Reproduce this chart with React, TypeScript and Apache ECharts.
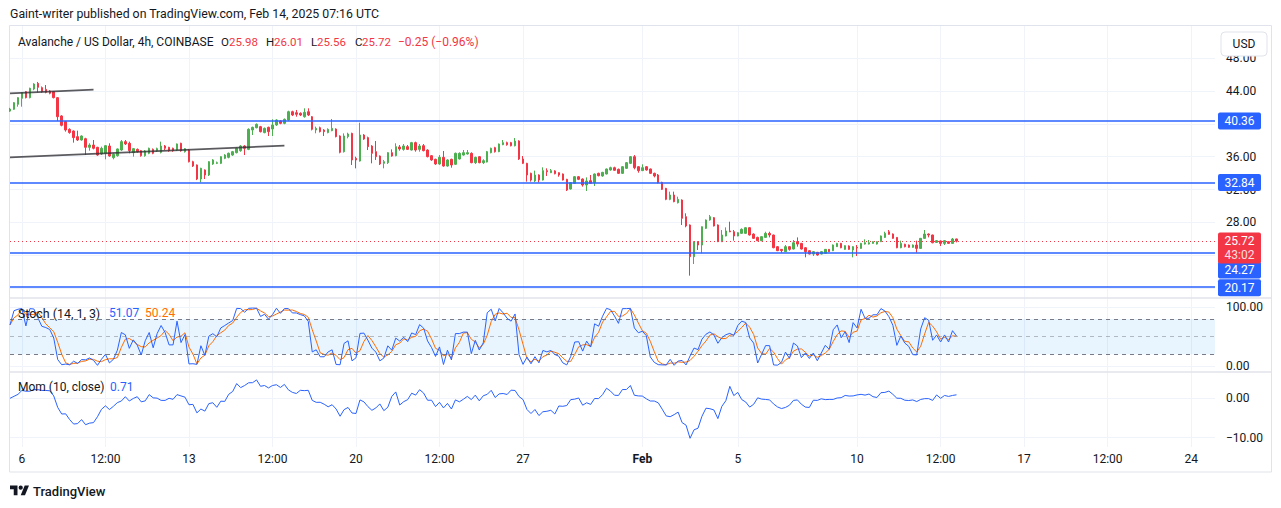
import React, { useEffect, useRef } from "react";
import * as echarts from "echarts";

// ---------- data ----------
const startTime = Date.UTC(2025, 0, 5, 12); // first 4h bar: Jan 5 12:00 UTC
const categoryCount = 304;

const opens = [
  41.55,
  41.77, 42.38, 43.11, 43.92, 43.19, 44.24, 44.93, 44.41, 44.20, 44.00,
  43.92, 43.19, 40.96, 40.27, 39.33, 39.13, 38.44, 38.03, 38.19, 37.14,
  37.42, 37.14, 36.33, 36.41, 37.30, 35.88, 36.12, 36.81, 37.83, 37.63,
  36.49, 36.89, 36.73, 36.12, 36.41, 36.89, 36.73, 36.53, 37.30, 37.14,
  37.02, 36.81, 37.63, 36.61, 36.81, 35.39, 34.99, 33.28, 34.38, 33.77,
  35.11, 35.19, 35.19, 35.80, 35.92, 36.20, 36.49, 36.73, 37.30, 36.89,
  39.25, 39.53, 39.66, 38.93, 39.57, 39.37, 39.86, 40.35, 40.06, 40.47,
  41.48, 41.36, 41.28, 40.87, 41.48, 40.87, 39.25, 39.53, 39.25, 38.93,
  39.17, 39.37, 38.52, 36.61, 38.44, 38.84, 35.80, 35.47, 38.64, 38.32,
  37.30, 36.61, 36.08, 35.19, 35.27, 36.49, 36.12, 37.18, 36.89, 37.22,
  36.81, 37.71, 36.89, 37.34, 36.81, 36.12, 35.68, 35.11, 35.92, 34.86,
  35.68, 35.07, 35.72, 36.20, 36.33, 36.41, 35.27, 36.00, 35.27, 35.35,
  36.49, 37.10, 36.61, 37.46, 37.71, 37.71, 37.34, 37.91, 35.72, 35.19,
  33.97, 33.04, 33.77, 33.16, 34.30, 34.05, 34.26, 34.05, 33.89, 33.24,
  32.06, 32.75, 33.56, 33.28, 32.55, 33.08, 32.83, 33.97, 33.65, 33.89,
  34.38, 34.66, 34.46, 33.97, 34.58, 35.19, 36.00, 34.78, 34.30, 34.78,
  34.50, 33.97, 33.77, 32.87, 32.14, 30.80, 31.33, 30.39, 30.72, 28.69,
  27.68, 23.82, 25.65, 25.24, 27.27, 28.29, 28.57, 27.68, 25.65, 26.34,
  26.95, 26.86, 26.34, 26.66, 26.66, 27.35, 26.58, 26.17, 25.77, 26.17,
  26.66, 26.46, 25.04, 24.71, 24.43, 25.04, 24.75, 25.65, 25.44, 24.91,
  24.55, 24.14, 24.35, 24.14, 24.23, 24.71, 24.55, 25.04, 25.44, 24.71,
  25.12, 24.63, 24.96, 24.83, 25.36, 25.36, 25.44, 25.36, 25.65, 26.17,
  26.86, 26.58, 26.17, 24.91, 25.32, 25.24, 24.96, 25.24, 24.83, 26.05,
  26.58, 26.46, 25.56, 25.73, 25.44, 25.65, 25.44, 25.98,
];

const closes = [
  41.80,
  42.58, 43.19, 43.80, 43.19, 44.33, 44.85, 44.45, 43.92, 43.84, 43.72,
  43.19, 40.87, 39.82, 39.25, 38.93, 38.32, 38.03, 38.52, 37.14, 37.42,
  37.02, 36.20, 37.02, 37.34, 36.08, 36.29, 36.94, 37.83, 37.55, 36.73,
  36.98, 36.61, 36.12, 36.69, 37.02, 36.41, 36.98, 37.30, 37.02, 36.73,
  36.73, 37.55, 36.73, 36.98, 35.39, 34.87, 33.28, 34.58, 33.77, 35.39,
  35.60, 35.27, 36.00, 36.20, 36.41, 36.61, 37.02, 37.30, 37.02, 39.33,
  39.57, 39.94, 39.05, 39.45, 39.05, 39.86, 40.47, 40.06, 40.55, 41.48,
  41.08, 41.16, 41.08, 41.40, 41.08, 39.33, 39.45, 39.05, 39.05, 39.33,
  39.45, 38.44, 36.53, 38.52, 38.76, 35.60, 35.60, 38.64, 38.15, 37.22,
  36.41, 36.00, 35.11, 35.39, 36.49, 36.08, 37.22, 36.94, 37.30, 36.89,
  37.71, 36.81, 37.30, 36.73, 36.00, 35.60, 35.11, 35.92, 34.86, 35.60,
  34.99, 36.41, 36.41, 36.49, 36.49, 35.27, 35.92, 35.27, 35.51, 36.61,
  37.02, 36.61, 37.54, 37.71, 37.46, 37.34, 37.91, 35.72, 35.19, 33.77,
  33.16, 33.77, 33.16, 34.30, 34.17, 34.30, 33.93, 33.77, 33.16, 31.94,
  32.83, 33.56, 33.24, 32.55, 33.04, 32.75, 33.89, 33.69, 34.09, 34.50,
  34.66, 34.34, 33.97, 34.78, 35.27, 36.00, 34.66, 34.30, 34.66, 34.38,
  33.97, 33.65, 32.83, 32.02, 30.80, 31.33, 30.52, 30.80, 28.49, 27.56,
  23.82, 25.65, 25.24, 27.47, 28.29, 28.69, 27.56, 25.65, 26.46, 26.95,
  26.86, 26.34, 26.74, 27.15, 27.35, 26.46, 26.05, 25.77, 26.26, 26.66,
  26.46, 24.91, 24.55, 24.55, 25.04, 24.71, 25.52, 25.36, 24.75, 24.43,
  24.14, 24.43, 24.02, 24.43, 24.71, 24.43, 25.24, 25.44, 24.91, 25.16,
  24.71, 25.04, 24.88, 25.44, 25.52, 25.52, 25.65, 25.65, 26.34, 26.66,
  26.54, 26.05, 24.91, 25.44, 25.04, 24.96, 25.24, 24.83, 26.05, 26.58,
  26.46, 25.52, 25.77, 25.44, 25.77, 25.44, 25.97, 25.72,
];

const lows = [
  41.45,
  41.70, 42.09, 42.09, 43.10, 43.10, 44.10, 43.84, 43.80, 43.72, 43.60,
  43.10, 40.35, 39.70, 39.05, 38.80, 37.71, 37.91, 37.95, 36.20, 36.73,
  36.89, 36.10, 36.20, 35.68, 36.00, 35.68, 36.00, 36.70, 37.42, 36.41,
  36.00, 36.50, 36.00, 36.00, 36.30, 36.30, 36.60, 36.40, 36.81, 36.60,
  36.60, 36.70, 36.60, 36.50, 35.30, 34.75, 33.15, 32.87, 33.28, 33.65,
  35.00, 35.10, 35.10, 35.70, 35.80, 36.10, 36.40, 36.60, 36.20, 36.80,
  38.64, 39.45, 38.95, 38.85, 38.52, 38.52, 39.75, 39.95, 39.95, 40.35,
  40.95, 40.87, 40.95, 40.75, 40.95, 39.20, 38.85, 38.95, 38.52, 38.85,
  39.10, 38.35, 36.41, 36.50, 38.23, 34.99, 34.58, 35.40, 38.05, 36.81,
  35.19, 35.60, 34.99, 34.58, 35.11, 36.00, 36.05, 36.73, 36.73, 36.81,
  36.75, 36.61, 36.61, 36.65, 35.92, 35.50, 35.00, 35.00, 34.78, 34.78,
  34.66, 35.00, 35.65, 36.12, 36.25, 35.20, 35.11, 35.20, 35.11, 35.30,
  36.41, 36.50, 36.55, 37.40, 37.34, 37.25, 37.25, 35.60, 35.10, 32.96,
  32.96, 32.92, 32.87, 33.10, 33.65, 34.00, 33.85, 33.56, 33.10, 31.82,
  32.00, 32.70, 33.15, 32.35, 31.82, 32.70, 32.43, 33.60, 33.56, 33.85,
  34.30, 34.30, 33.90, 33.90, 34.50, 35.10, 34.46, 34.05, 34.25, 34.30,
  33.90, 33.48, 32.75, 31.94, 30.70, 30.70, 30.45, 30.30, 27.68, 27.40,
  21.51, 22.93, 24.63, 24.23, 27.20, 28.20, 27.50, 25.60, 25.60, 26.30,
  26.80, 25.77, 26.30, 26.60, 26.60, 26.40, 26.00, 25.70, 25.70, 26.10,
  26.17, 24.85, 24.50, 24.31, 24.40, 24.55, 24.70, 25.04, 24.70, 23.74,
  24.10, 23.90, 23.95, 24.10, 24.20, 24.40, 24.50, 25.00, 24.85, 24.65,
  24.65, 23.74, 23.90, 24.80, 25.30, 25.30, 25.40, 25.30, 25.60, 26.10,
  26.50, 26.00, 24.85, 24.85, 24.95, 24.90, 24.90, 24.31, 24.80, 26.00,
  26.17, 25.45, 25.50, 25.12, 25.24, 25.40, 25.40, 25.56,
];

const highs = [
  41.95,
  42.65, 43.25, 43.85, 44.00, 44.40, 44.95, 45.10, 44.55, 44.73, 44.10,
  44.00, 43.25, 41.05, 40.35, 39.45, 39.20, 39.17, 38.60, 38.30, 37.63,
  38.03, 37.20, 37.22, 37.40, 37.63, 36.40, 37.00, 38.03, 38.03, 37.83,
  37.05, 37.00, 36.80, 36.80, 37.10, 37.00, 37.10, 37.83, 37.42, 37.20,
  37.10, 37.60, 37.70, 37.05, 36.90, 35.50, 35.05, 34.65, 34.45, 35.45,
  35.70, 35.40, 36.05, 36.30, 36.50, 36.70, 37.10, 37.40, 37.40, 39.45,
  39.66, 40.05, 39.75, 39.55, 39.66, 40.55, 40.55, 40.45, 40.65, 41.60,
  41.60, 41.69, 41.40, 41.89, 41.89, 40.95, 39.66, 39.66, 39.35, 39.45,
  40.59, 39.45, 38.60, 38.84, 38.92, 38.92, 36.00, 40.14, 38.75, 38.44,
  37.40, 37.91, 36.15, 35.60, 36.55, 36.89, 37.63, 37.42, 37.54, 37.42,
  37.80, 37.83, 37.54, 37.54, 36.90, 36.20, 35.75, 36.20, 36.69, 35.70,
  35.75, 36.50, 36.53, 36.81, 36.81, 36.53, 36.00, 36.05, 35.68, 36.70,
  37.10, 37.20, 37.60, 38.03, 37.83, 37.80, 38.27, 38.00, 36.08, 35.25,
  34.05, 34.30, 33.85, 34.70, 34.58, 34.50, 34.35, 34.10, 33.95, 33.30,
  32.90, 33.65, 33.65, 33.35, 33.48, 33.77, 33.95, 34.05, 34.15, 34.55,
  34.78, 34.78, 34.55, 34.85, 35.35, 36.08, 36.20, 34.85, 35.07, 34.86,
  34.55, 34.05, 33.89, 32.95, 32.20, 31.74, 31.74, 31.13, 30.80, 29.10,
  27.75, 25.70, 25.70, 27.50, 28.35, 28.90, 28.65, 27.75, 27.07, 27.39,
  28.08, 27.07, 26.80, 27.27, 27.40, 27.40, 26.65, 26.25, 26.30, 26.86,
  26.86, 26.50, 25.10, 24.75, 25.24, 25.10, 25.85, 26.17, 25.50, 24.95,
  24.60, 24.50, 24.40, 24.50, 24.75, 24.75, 25.30, 25.50, 25.50, 25.20,
  25.20, 25.10, 25.24, 25.50, 25.93, 25.85, 25.70, 25.70, 26.40, 26.86,
  27.07, 26.65, 26.20, 25.77, 25.40, 25.30, 25.30, 25.77, 26.10, 27.07,
  26.65, 26.50, 25.85, 25.80, 25.85, 25.70, 26.10, 26.01,
];

// momentum of the first bars (their 10-bar-back closes are off the chart)
const momLead = [0.0, 0.5, 1.0, 2.0, 1.8, 1.8, 2.2, 2.2, 2.0, 2.0];

const levels = [40.36, 32.84, 24.27, 20.17];
const levelTagShift = [0, 0, 17, 1];
const trendLines = [
  [0, 43.72, 21, 44.16],
  [0, 35.92, 69, 37.34],
];
const priceGridTicks = [20, 24, 28, 32, 36, 40, 44, 48];
const priceLabelTicks = [28, 32, 36, 44, 48];
const stochTicks = [0, 100];
const stochBands = [80, 50, 20];
const momTicks = [-10, 0];
const timeTickIndex = [3, 24, 45, 66, 87, 108, 129, 159, 183, 213, 234, 255, 276, 297];
const timeTickText = ["6", "12:00", "13", "12:00", "20", "12:00", "27", "Feb", "5", "10", "12:00", "17", "12:00", "24"];
const stochLegendValues = ["51.07", "50.24"];
const momLegendValue = "0.71";
const countdown = "43:02";

// ---------- derived ----------
const categories = Array.from({ length: categoryCount }, (_, i) =>
  new Date(startTime + i * 4 * 3600e3).toISOString().slice(0, 16).replace("T", " ")
);
const candleData = opens.map((o, i) => [o, closes[i], lows[i], highs[i]]);

const kLine = closes.map((c, i) => {
  const from = Math.max(0, i - 13);
  let hh = -Infinity, ll = Infinity;
  for (let j = from; j <= i; j++) { hh = Math.max(hh, highs[j]); ll = Math.min(ll, lows[j]); }
  return hh === ll ? 50 : +((100 * (c - ll)) / (hh - ll)).toFixed(2);
});
const dLine = kLine.map((_, i) => {
  const from = Math.max(0, i - 2);
  let s = 0;
  for (let j = from; j <= i; j++) s += kLine[j];
  return +(s / (i - from + 1)).toFixed(2);
});
const momLine = closes.map((c, i) => (i < 10 ? momLead[i] : +(c - closes[i - 10]).toFixed(2)));

const last = closes.length - 1;
const change = closes[last] - closes[last - 1];
const fmtSigned = (v: number) => (v < 0 ? "\u2212" + Math.abs(v).toFixed(2) : "+" + v.toFixed(2));

const tagItems = [
  ...levels.map((v, k) => ({ value: [0, v], text: v.toFixed(2), sub: "", color: "#2962ff", shift: levelTagShift[k] })),
  { value: [0, closes[last]], text: closes[last].toFixed(2), sub: countdown, color: "#f23645", shift: 0 },
];

const FONT = "Roboto, 'Noto Sans', sans-serif";
const TEXT = "#131722";
const GRID = "#f0f3fa";
const BORDER = "#e0e3eb";

let logoRegistered = false;
function registerLogo() {
  if (logoRegistered) return;
  const d = "M14 22H7V11H0V4h14v18zM28 22h-8l7.5-18h8L28 22zM16 8a4 4 0 1 0 8 0a4 4 0 1 0 -8 0z";
  echarts.graphic.registerShape("tvlogo", echarts.graphic.extendPath(d, {}) as any);
  logoRegistered = true;
}

const isTick = (i: number) => timeTickIndex.indexOf(i) >= 0;
const axisNum = (v: number) => (v < 0 ? "\u2212" + Math.abs(v).toFixed(2) : v.toFixed(2));

function txt(x: number, y: number, text: string, fill: string, size = 13, weight: any = "normal") {
  return {
    type: "text",
    x,
    y,
    silent: true,
    z: 100,
    style: { text, fill, font: `${weight} ${size}px ${FONT}`, verticalAlign: "middle", textVerticalAlign: "middle", align: "left", textAlign: "left" },
  };
}

export default function App() {
  const ref = useRef<HTMLDivElement>(null);
  useEffect(() => {
    if (!ref.current) return;
    registerLogo();
    const chart = echarts.init(ref.current, null, { renderer: "svg" });

    const xAxes = [0, 1, 2].map((g) => ({
      type: "category",
      gridIndex: g,
      data: categories,
      boundaryGap: false,
      axisLine: { show: false },
      axisTick: { show: false },
      axisLabel:
        g === 2
          ? {
              show: true,
              interval: (i: number) => isTick(i),
              formatter: (_v: string, i: number) => {
                const t = timeTickText[timeTickIndex.indexOf(i)] || "";
                return t === "Feb" ? "{b|Feb}" : t;
              },
              color: TEXT,
              fontSize: 12,
              fontFamily: FONT,
              margin: 6,
              rich: { b: { fontWeight: "bold", color: TEXT, fontSize: 12, fontFamily: FONT } },
            }
          : { show: false },
      splitLine: { show: true, interval: (i: number) => isTick(i), lineStyle: { color: GRID, width: 1 } },
    }));

    const yCommon = (gridTicks: number[], labelTicks: number[]) => ({
      position: "right",
      axisLine: { show: false },
      axisTick: { show: false, customValues: gridTicks },
      axisLabel: { customValues: labelTicks, formatter: axisNum, color: TEXT, fontSize: 12, fontFamily: FONT, margin: 11 },
      splitLine: { show: true, lineStyle: { color: GRID, width: 1 } },
    });

    const option: any = {
      animation: false,
      backgroundColor: "#ffffff",
      textStyle: { fontFamily: FONT },
      grid: [
        { left: 10, right: 66, top: 26, height: 272, outerBoundsMode: "none" },
        { left: 10, right: 66, top: 298, height: 74, outerBoundsMode: "none" },
        { left: 10, right: 66, top: 372, height: 75, outerBoundsMode: "none" },
      ],
      xAxis: xAxes,
      yAxis: [
        { type: "value", gridIndex: 0, min: 18.787, max: 51.917, scale: true, ...yCommon(priceGridTicks, priceLabelTicks) },
        { type: "value", gridIndex: 1, min: -10.2, max: 115.8, ...yCommon(stochTicks, stochTicks) },
        { type: "value", gridIndex: 2, min: -12.36, max: 6.68, ...yCommon(momTicks, momTicks) },
      ],
      series: [
        {
          type: "candlestick",
          xAxisIndex: 0,
          yAxisIndex: 0,
          data: candleData,
          barWidth: 2,
          clip: true,
          itemStyle: { color: "#4caf50", color0: "#f23645", borderColor: "#4caf50", borderColor0: "#f23645", borderWidth: 1 },
          markLine: {
            silent: true,
            symbol: ["none", "none"],
            label: { show: false },
            data: [
              ...levels.map((v) => ({ yAxis: v, lineStyle: { color: "#2962ff", width: 1.5, type: "solid" } })),
              { yAxis: closes[last], lineStyle: { color: "#f23645", width: 1, type: [1, 3] } },
              ...trendLines.map((t) => [
                { coord: [categories[t[0]], t[1]], lineStyle: { color: "rgba(50,50,55,0.8)", width: 1.8, type: "solid" } },
                { coord: [categories[t[2]], t[3]] },
              ]),
            ],
          },
        },
        {
          type: "custom",
          xAxisIndex: 0,
          yAxisIndex: 0,
          z: 20,
          silent: true,
          clip: false,
          data: tagItems.map((t) => t.value),
          renderItem: (params: any, api: any) => {
            const item = tagItems[params.dataIndex];
            const cs = params.coordSys;
            const y = api.coord([0, item.value[1]])[1] + item.shift;
            const x0 = cs.x + cs.width + 3;
            const w = 43;
            const h = item.sub ? 31 : 17;
            const children: any[] = [
              { type: "rect", shape: { x: x0, y: y - 8.5, width: w, height: h, r: 2 }, style: { fill: item.color } },
              {
                type: "text",
                style: { text: item.text, x: x0 + w / 2, y, fill: "#ffffff", font: `12px ${FONT}`, align: "center", textAlign: "center", verticalAlign: "middle", textVerticalAlign: "middle" },
              },
            ];
            if (item.sub) {
              children.push({
                type: "text",
                style: { text: item.sub, x: x0 + w / 2, y: y + 14, fill: "rgba(255,255,255,0.85)", font: `12px ${FONT}`, align: "center", textAlign: "center", verticalAlign: "middle", textVerticalAlign: "middle" },
              });
            }
            return { type: "group", children };
          },
        },
        {
          type: "line",
          name: "K",
          xAxisIndex: 1,
          yAxisIndex: 1,
          data: kLine,
          showSymbol: false,
          symbol: "none",
          lineStyle: { color: "#2962ff", width: 1 },
          z: 5,
          markArea: {
            silent: true,
            itemStyle: { color: "rgba(33,150,243,0.1)" },
            data: [[{ yAxis: stochBands[2] }, { yAxis: stochBands[0] }]],
          },
          markLine: {
            silent: true,
            symbol: ["none", "none"],
            label: { show: false },
            data: stochBands.map((b) => ({
              yAxis: b,
              lineStyle: { color: b === 50 ? "rgba(120,123,134,0.5)" : "#787b86", width: 1, type: [4, 4] },
            })),
          },
        },
        {
          type: "line",
          name: "D",
          xAxisIndex: 1,
          yAxisIndex: 1,
          data: dLine,
          showSymbol: false,
          symbol: "none",
          lineStyle: { color: "#ff6d00", width: 1 },
          z: 4,
        },
        {
          type: "line",
          name: "Mom",
          xAxisIndex: 2,
          yAxisIndex: 2,
          data: momLine,
          showSymbol: false,
          symbol: "none",
          lineStyle: { color: "#2962ff", width: 1 },
        },
      ],
      graphic: [
        { type: "rect", silent: true, z: 1, shape: { x: 9.5, y: 25.5, width: 1262, height: 446.5 }, style: { fill: "none", stroke: BORDER, lineWidth: 1 } },
        { type: "line", silent: true, z: 50, shape: { x1: 9.5, y1: 298, x2: 1271.5, y2: 298 }, style: { stroke: BORDER, lineWidth: 1.5 } },
        { type: "line", silent: true, z: 50, shape: { x1: 9.5, y1: 372, x2: 1271.5, y2: 372 }, style: { stroke: BORDER, lineWidth: 1.5 } },
        txt(10, 14, "Gaint-writer published on TradingView.com, Feb 14, 2025 07:16 UTC", TEXT, 12.3),
        txt(18, 42, "Avalanche / US Dollar, 4h, COINBASE", TEXT, 12),
        txt(221, 42, "O", TEXT, 11.5),
        txt(229, 42, opens[last].toFixed(2), "#f23645", 11.5),
        txt(266, 42, "H", TEXT, 11.5),
        txt(274, 42, highs[last].toFixed(2), "#f23645", 11.5),
        txt(311, 42, "L", TEXT, 11.5),
        txt(317, 42, lows[last].toFixed(2), "#f23645", 11.5),
        txt(355, 42, "C", TEXT, 11.5),
        txt(362, 42, closes[last].toFixed(2), "#f23645", 11.5),
        txt(398, 42, `${fmtSigned(change)} (${fmtSigned((change / closes[last - 1]) * 100)}%)`, "#f23645", 12),
        {
          type: "rect",
          z: 60,
          silent: true,
          shape: { x: 1221, y: 32, width: 46, height: 24, r: 4 },
          style: { fill: "#ffffff", stroke: BORDER, lineWidth: 1 },
        },
        {
          type: "text",
          z: 61,
          silent: true,
          x: 1244,
          y: 44,
          style: { text: "USD", fill: TEXT, font: `12px ${FONT}`, align: "center", textAlign: "center", verticalAlign: "middle", textVerticalAlign: "middle" },
        },
        txt(18, 313, "Stoch (14, 1, 3)", TEXT, 12.4),
        txt(109, 313, stochLegendValues[0], "#2962ff", 12),
        txt(145, 313, stochLegendValues[1], "#ff6d00", 12),
        txt(18, 387, "Mom (10, close)", TEXT, 12),
        txt(110, 387, momLegendValue, "#2962ff", 12),
        { type: "tvlogo", x: 10, y: 483.4, scaleX: 0.535, scaleY: 0.535, silent: true, style: { fill: TEXT } },
        txt(33, 491, "TradingView", TEXT, 13, 500),
      ],
    };
    chart.setOption(option);
    return () => chart.dispose();
  }, []);
  return (
    <div
      ref={ref}
      style={{ position: "fixed", left: 0, top: 0, width: 1281, height: 508, background: "#fff" }}
    />
  );
}
